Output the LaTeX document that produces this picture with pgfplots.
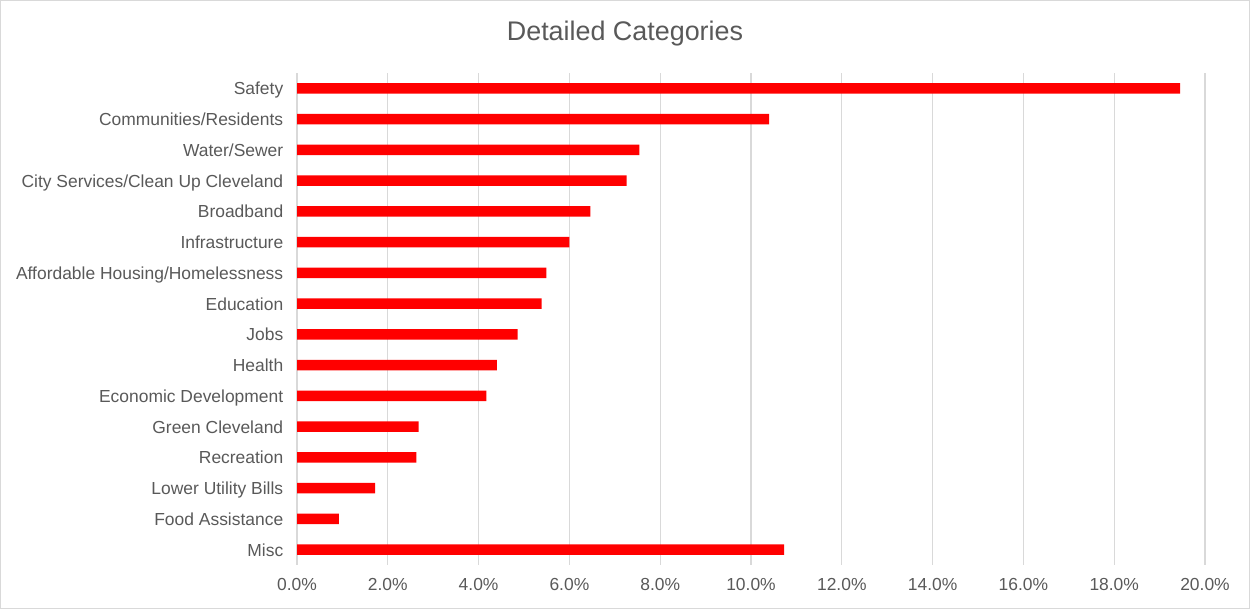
\documentclass[border=0pt]{standalone}
\usepackage{pgfplots}
\pgfplotsset{compat=1.18}
\usepackage{fontspec}
\setmainfont{Liberation Sans}
\definecolor{txtgray}{HTML}{595959}
\definecolor{gridgray}{HTML}{D9D9D9}
\definecolor{framegray}{HTML}{D9D9D9}
\definecolor{barred}{HTML}{FF0000}

\pgfplotstableread{
idx value
0  10.73
1  0.92
2  1.72
3  2.63
4  2.68
5  4.17
6  4.40
7  4.86
8  5.39
9  5.49
10 6.00
11 6.46
12 7.26
13 7.54
14 10.40
15 19.45
}\datatable

\begin{document}
\begin{tikzpicture}[x=1bp,y=1bp]
  % outer frame of the chart area
  \draw[framegray, line width=1bp] (0.5,0.5) rectangle (1249.5,608.5);
  % title
  \node[text=txtgray, font=\fontsize{27}{31}\selectfont] at (625,575) {Detailed Categories};
  \begin{axis}[
    at={(297bp,44bp)}, anchor=south west,
    scale only axis,
    width=908bp, height=492bp,
    xbar,
    bar width=10.5bp,
    xmin=0, xmax=20,
    ymin=-0.5, ymax=15.5,
    xtick={0,2,...,20},
    xticklabels={0.0\%,2.0\%,4.0\%,6.0\%,8.0\%,10.0\%,12.0\%,14.0\%,16.0\%,18.0\%,20.0\%},
    ytick={0,...,15},
    yticklabels={Misc,Food Assistance,Lower Utility Bills,Recreation,Green Cleveland,Economic Development,Health,Jobs,Education,Affordable Housing/Homelessness,Infrastructure,Broadband,City Services/Clean Up Cleveland,Water/Sewer,Communities/Residents,Safety},
    tick style={draw=none},
    axis line style={draw=none},
    xmajorgrids,
    major grid style={gridgray, line width=1.3bp},
    ticklabel style={text=txtgray, font=\fontsize{17.5}{20}\selectfont},
    xticklabel style={yshift=-10bp},
    yticklabel style={xshift=-6bp, yshift=-2bp, text height=12.5bp, text depth=3.5bp},
    /pgf/number format/assume math mode=true,
  ]
    \addplot[fill=barred, draw=none] table[x=value, y=idx] {\datatable};
  \end{axis}
\end{tikzpicture}
\end{document}
